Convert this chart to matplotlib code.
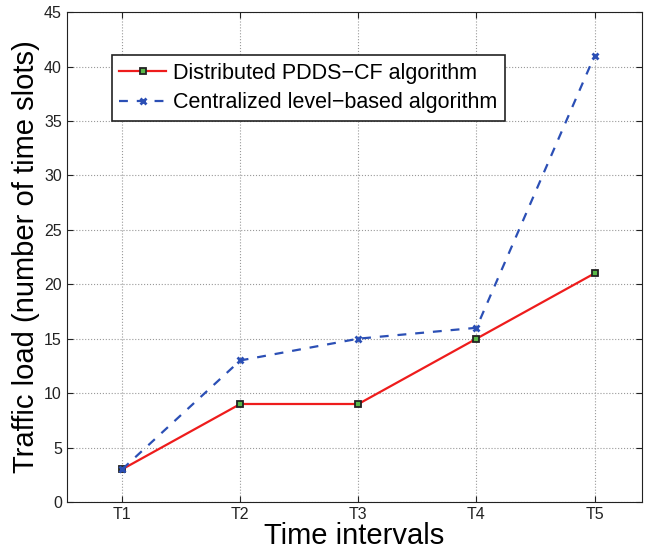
import matplotlib
matplotlib.use('Agg')
import matplotlib.pyplot as plt

plt.rcParams['font.family'] = ['Liberation Sans', 'DejaVu Sans']

intervals = ['T1', 'T2', 'T3', 'T4', 'T5']
distributed = [3, 9, 9, 15, 21]
centralized = [3, 13, 15, 16, 41]

fig = plt.figure(figsize=(6.47, 5.51), dpi=100)
ax = fig.add_axes([0.103, 0.089, 0.889, 0.889])
x = range(1, len(intervals) + 1)

ax.plot(x, distributed, color='#ee1c1c', lw=1.6, marker='s', ms=5,
        mfc='#58b848', mec='#222222', mew=1.3, label='Distributed PDDS\u2212CF algorithm')
ax.plot(x, centralized, color='#2b4fb5', lw=1.6, ls=(0, (4, 4)), marker='x', ms=4.5,
        mew=2, label='Centralized level\u2212based algorithm')

ax.set_xlim(0.53, 5.4)
ax.set_ylim(0, 45)
ax.set_xticks(list(x))
ax.set_xticklabels(intervals)
ax.set_yticks(range(0, 46, 5))
ax.tick_params(labelsize=11.5, direction='in', length=4, top=True, right=True, colors='#222222')
ax.grid(True, ls=':', color='#999999', lw=0.8)
ax.set_xlabel('Time intervals', fontsize=21, labelpad=0)
ax.set_ylabel('Traffic load (number of time slots)', fontsize=21, labelpad=3)
for s in ax.spines.values():
    s.set_color('#222222')

leg = ax.legend(loc='upper left', bbox_to_anchor=(0.078, 0.912), fontsize=15.5,
                fancybox=False, framealpha=1, edgecolor='#222222',
                handlelength=2.2, borderpad=0.35, labelspacing=0.4, handletextpad=0.3,
                borderaxespad=0)
leg.get_frame().set_linewidth(1.2)

fig.savefig('out.png', dpi=100)
